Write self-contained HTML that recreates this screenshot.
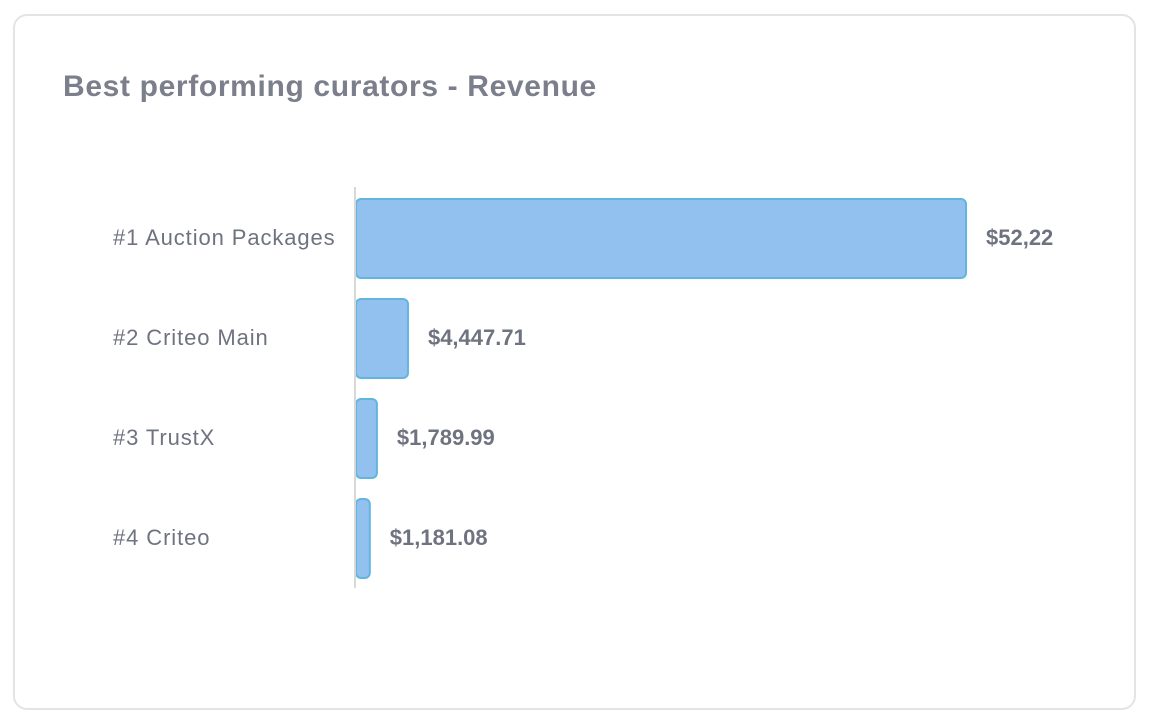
<!DOCTYPE html>
<html><head><meta charset="utf-8"><style>
html,body{margin:0;padding:0;background:#fff;width:1150px;height:726px;overflow:hidden;font-family:"Liberation Sans",sans-serif;}
#card{position:absolute;left:13px;top:14px;width:1123px;height:696px;border:2px solid #e4e4e4;border-radius:14px;box-sizing:border-box;}
#title{position:absolute;left:63px;top:70px;font-size:30px;font-weight:bold;color:#7b7f8b;letter-spacing:0.65px;}
svg{position:absolute;left:0;top:0;}
</style></head><body>
<div id="card"></div>
<div id="title">Best performing curators - Revenue</div>
<svg id="chart" width="1150" height="726"></svg>
<script>
const categories=["#1 Auction Packages","#2 Criteo Main","#3 TrustX","#4 Criteo"];
const values=[52220,4447.71,1789.99,1181.08];
const valueLabels=["$52,22","$4,447.71","$1,789.99","$1,181.08"];
const NS="http://www.w3.org/2000/svg";
const svg=document.getElementById('chart');
const x0=355,pxPerUnit=610/52220,top0=188,band=100;
const xs=v=>x0+v*pxPerUnit;
const ys=i=>top0+i*band;
function mk(t,a){const e=document.createElementNS(NS,t);for(const k in a)e.setAttribute(k,a[k]);svg.appendChild(e);return e;}
categories.forEach((c,i)=>{
  const y=ys(i);
  const w=xs(values[i])-x0;
  const r=mk('rect',{x:x0+1,y:y+11,width:Math.max(w,2),height:79,rx:5,fill:'#92c1f0',stroke:'#62b5dc','stroke-width':2});
  
  
  const l=mk('text',{x:113,y:y+57,'text-anchor':'start','font-size':22,'letter-spacing':0.9,fill:'#6f7380','font-family':'Liberation Sans, sans-serif'});
  l.textContent=c;
  
  
  const v=mk('text',{x:xs(values[i])+21,y:y+57,'font-size':22,'font-weight':'bold',fill:'#6f7380','font-family':'Liberation Sans, sans-serif'});
  v.textContent=valueLabels[i];
  
  
});
const ax=mk('line',{x1:x0,x2:x0,y1:187,y2:588,stroke:'#d8d8d8','stroke-width':2});


</script>
</body></html>
